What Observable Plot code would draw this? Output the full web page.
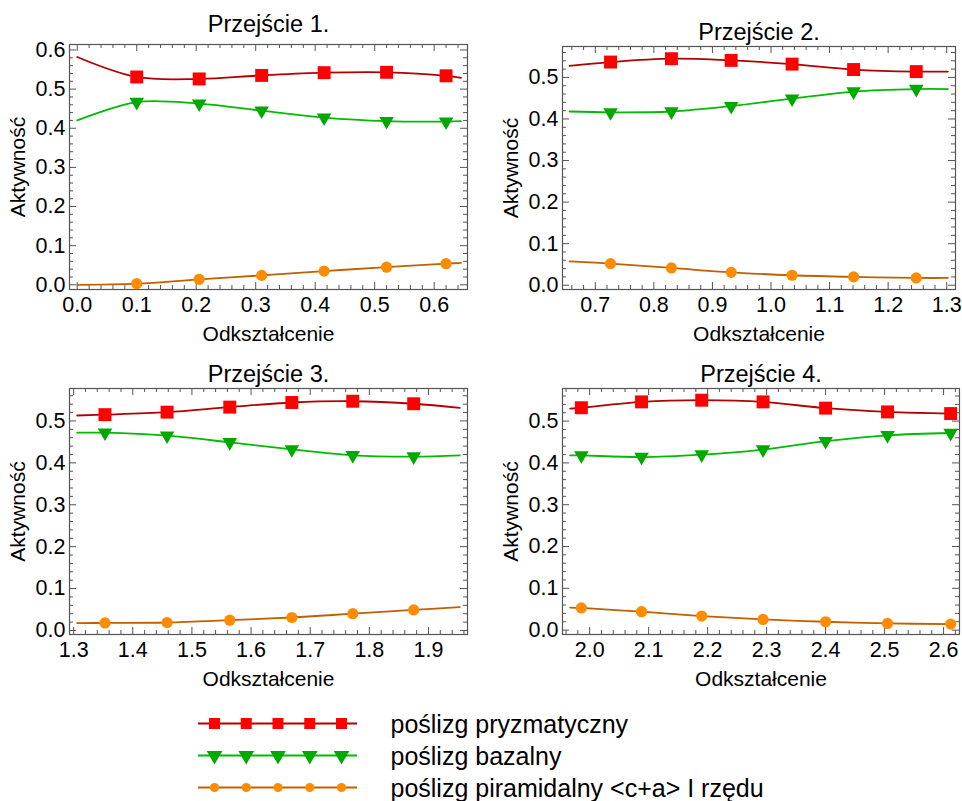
<!DOCTYPE html>
<html><head><meta charset="utf-8">
<script src="https://cdn.jsdelivr.net/npm/d3@7"></script>
<script src="https://cdn.jsdelivr.net/npm/@observablehq/plot@0.6"></script>
<style>
body{margin:0;background:#fff;}
#root{position:relative;width:962px;height:801px;overflow:hidden;font-family:Arial,"Liberation Sans",sans-serif;}
#root > svg, #root > figure{position:absolute;margin:0;}
</style></head><body><div id="root"></div>
<script>
// ---------- data ----------
const seriesNames = ["poślizg pryzmatyczny", "poślizg bazalny", "poślizg piramidalny <c+a> I rzędu"];
const panelTitles = ["Przejście 1.", "Przejście 2.", "Przejście 3.", "Przejście 4."];
const xLabel = "Odkształcenie";
const yLabel = "Aktywność";

// Panel 1
const strain1 = [0, 0.10, 0.205, 0.31, 0.415, 0.52, 0.62, 0.645];
const marked1 = [0, 1, 1, 1, 1, 1, 1, 0];
const pryz1 = [0.582, 0.531, 0.526, 0.535, 0.542, 0.543, 0.534, 0.529];
const baz1  = [0.420, 0.467, 0.463, 0.445, 0.427, 0.418, 0.417, 0.418];
const pir1  = [0.000, 0.003, 0.014, 0.024, 0.035, 0.045, 0.054, 0.056];

// Panel 2
const strain2 = [0.656, 0.726, 0.83, 0.932, 1.036, 1.141, 1.248, 1.302];
const marked2 = [0, 1, 1, 1, 1, 1, 1, 0];
const pryz2 = [0.528, 0.537, 0.545, 0.541, 0.532, 0.519, 0.514, 0.514];
const baz2  = [0.418, 0.416, 0.418, 0.431, 0.449, 0.466, 0.472, 0.472];
const pir2  = [0.0576, 0.052, 0.0415, 0.031, 0.024, 0.020, 0.0175, 0.0175];

// Panel 3
const strain3 = [1.306, 1.353, 1.458, 1.564, 1.669, 1.772, 1.875, 1.953];
const marked3 = [0, 1, 1, 1, 1, 1, 1, 0];
const pryz3 = [0.513, 0.515, 0.521, 0.533, 0.544, 0.547, 0.541, 0.531];
const baz3  = [0.472, 0.472, 0.465, 0.449, 0.432, 0.418, 0.415, 0.418];
const pir3  = [0.0175, 0.018, 0.019, 0.0246, 0.031, 0.040, 0.049, 0.0556];

// Panel 4
const strain4 = [1.967, 1.986, 2.088, 2.19, 2.294, 2.40, 2.505, 2.612];
const marked4 = [0, 1, 1, 1, 1, 1, 1, 1];
const pryz4 = [0.530, 0.532, 0.546, 0.550, 0.546, 0.531, 0.522, 0.518];
const baz4  = [0.418, 0.418, 0.414, 0.420, 0.432, 0.452, 0.466, 0.4715];
const pir4  = [0.054, 0.053, 0.044, 0.0336, 0.0255, 0.020, 0.016, 0.0144];

// tick labels
const xTicks1 = [0.0, 0.1, 0.2, 0.3, 0.4, 0.5, 0.6];
const xTicks2 = [0.7, 0.8, 0.9, 1.0, 1.1, 1.2, 1.3];
const xTicks3 = [1.3, 1.4, 1.5, 1.6, 1.7, 1.8, 1.9];
const xTicks4 = [2.0, 2.1, 2.2, 2.3, 2.4, 2.5, 2.6];
const yTicks1 = [0.0, 0.1, 0.2, 0.3, 0.4, 0.5, 0.6];
const yTicks2 = [0.0, 0.1, 0.2, 0.3, 0.4, 0.5];

// ---------- styling / layout ----------
const lineColors = ["#b00000", "#00bb00", "#c06000"];
const markColors = ["#ff0000", "#00a800", "#ff8c00"];
const font = 'Arial, "Liberation Sans", sans-serif';

const panels = [
  {title: panelTitles[0], strain: strain1, marked: marked1, vals: [pryz1, baz1, pir1], xTicks: xTicks1, yTicks: yTicks1,
   left: 0, top: 0, mL: 69, mR: 14, mT: 44, mB: 56, xDomain: [-0.013, 0.656], yDomain: [-0.012, 0.614], titleDy: -20},
  {title: panelTitles[1], strain: strain2, marked: marked2, vals: [pryz2, baz2, pir2], xTicks: xTicks2, yTicks: yTicks2,
   left: 481, top: 0, mL: 81, mR: 7, mT: 46, mB: 56, xDomain: [0.644, 1.315], yDomain: [-0.0103, 0.5744], titleDy: -14},
  {title: panelTitles[2], strain: strain3, marked: marked3, vals: [pryz3, baz3, pir3], xTicks: xTicks3, yTicks: yTicks2,
   left: 0, top: 345, mL: 69, mR: 14, mT: 43, mB: 56, xDomain: [1.293, 1.966], yDomain: [-0.0096, 0.5774], titleDy: -14},
  {title: panelTitles[3], strain: strain4, marked: marked4, vals: [pryz4, baz4, pir4], xTicks: xTicks4, yTicks: yTicks2,
   left: 481, top: 345, mL: 81, mR: 3, mT: 43, mB: 56, xDomain: [1.954, 2.627], yDomain: [-0.0105, 0.578], titleDy: -14}
];

function minorTicks(lo, hi, step) {
  const a = Math.ceil(lo / step - 1e-9), b = Math.floor(hi / step + 1e-9);
  return d3.range(a, b + 1).filter(i => i % 5 !== 0).map(i => +(i * step).toFixed(6));
}
function majorAll(lo, hi, step) {
  const a = Math.ceil(lo / step - 1e-9), b = Math.floor(hi / step + 1e-9);
  return d3.range(a, b + 1).map(i => +(i * step).toFixed(6));
}

const root = document.getElementById("root");
const W = 481, H = 345;
const frameColor = "#555";
const majorLen = 7, minorLen = 4;

for (const p of panels) {
  const pw = W - p.mL - p.mR, ph = H - p.mT - p.mB;
  const rows = [];
  p.strain.forEach((s, i) => seriesNames.forEach((name, k) => rows.push({s, v: p.vals[k][i], name, k, marked: p.marked[i]})));
  const mk = k => rows.filter(r => r.marked && r.k === k);
  const xMaj = majorAll(p.xDomain[0], p.xDomain[1], 0.1), xMin = minorTicks(p.xDomain[0], p.xDomain[1], 0.02);
  const yMaj = majorAll(p.yDomain[0], p.yDomain[1], 0.1), yMin = minorTicks(p.yDomain[0], p.yDomain[1], 0.02);
  const tickStyle = {stroke: frameColor, strokeWidth: 1};
  const svg = Plot.plot({
    width: W, height: H,
    marginLeft: p.mL, marginRight: p.mR, marginTop: p.mT, marginBottom: p.mB,
    x: {domain: p.xDomain},
    y: {domain: p.yDomain},
    color: {domain: seriesNames, range: lineColors},
    style: {fontFamily: font, fontSize: "21px", color: "black", background: "white", overflow: "visible"},
    marks: [
      // inward ticks on all four sides
      Plot.ruleX(xMaj, {x: d => d, insetTop: ph - majorLen, ...tickStyle}),
      Plot.ruleX(xMin, {x: d => d, insetTop: ph - minorLen, ...tickStyle}),
      Plot.ruleX(xMaj, {x: d => d, insetBottom: ph - majorLen, ...tickStyle}),
      Plot.ruleX(xMin, {x: d => d, insetBottom: ph - minorLen, ...tickStyle}),
      Plot.ruleY(yMaj, {y: d => d, insetRight: pw - majorLen, ...tickStyle}),
      Plot.ruleY(yMin, {y: d => d, insetRight: pw - minorLen, ...tickStyle}),
      Plot.ruleY(yMaj, {y: d => d, insetLeft: pw - majorLen, ...tickStyle}),
      Plot.ruleY(yMin, {y: d => d, insetLeft: pw - minorLen, ...tickStyle}),
      Plot.frame({stroke: frameColor, strokeWidth: 1.2}),
      Plot.axisX({ticks: p.xTicks, tickSize: 0, tickPadding: 7, tickFormat: d3.format(".1f"), label: null, fontSize: 21.5}),
      Plot.axisY({ticks: p.yTicks, tickSize: 0, tickPadding: 4, tickFormat: d3.format(".1f"), label: null, fontSize: 21.5}),
      Plot.line(rows, {x: "s", y: "v", z: "name", stroke: "name", curve: "catmull-rom", strokeWidth: 1.8}),
      Plot.dot(mk(0), {x: "s", y: "v", symbol: "square", r: 7.3, fill: markColors[0]}),
      Plot.dot(mk(1), {x: "s", y: "v", symbol: "triangle", rotate: 180, r: 5.4, fill: markColors[1]}),
      Plot.dot(mk(2), {x: "s", y: "v", symbol: "circle", r: 5.6, fill: markColors[2]}),
      Plot.text([p.title], {text: d => d, frameAnchor: "top", dy: p.titleDy, fontSize: 23.5, lineAnchor: "middle", fill: "black"}),
      Plot.text([xLabel], {text: d => d, frameAnchor: "bottom", dy: 45, fontSize: 21, lineAnchor: "middle", fill: "black"}),
      Plot.text([yLabel], {text: d => d, frameAnchor: "left", dx: -51, rotate: -90, fontSize: 21, lineAnchor: "middle", textAnchor: "middle", fill: "black"})
    ]
  });
  svg.style.left = p.left + "px";
  svg.style.top = p.top + "px";
  root.appendChild(svg);
}

// ---------- legend ----------
const legTop = 690, legH = 111;
const rowY = i => 33 + i * 32;
const swatchX = j => 214 + j * 31.75;
const legendRows = seriesNames.map((name, i) => ({name, i, y: rowY(i)}));
const legendDots = legendRows.flatMap(r => d3.range(5).map(j => ({...r, x: swatchX(j)})));
const symbols = ["square", "triangle", "circle"];
const legR = [6.2, 5.8, 4.6];
const legend = Plot.plot({
  width: 962, height: legH,
  margin: 0,
  x: {type: "identity", axis: null},
  y: {type: "identity", axis: null},
  style: {fontFamily: font, fontSize: "25px", color: "black", background: "white", overflow: "visible"},
  marks: [
    Plot.ruleY(legendRows, {y: "y", x1: 198, x2: 357, stroke: r => lineColors[r.i], strokeWidth: 1.8}),
    ...[0, 1, 2].map(k => Plot.dot(legendDots.filter(d => d.i === k), {
      x: "x", y: "y", symbol: symbols[k], r: legR[k], fill: markColors[k], rotate: k === 1 ? 180 : 0
    })),
    Plot.text(legendRows, {x: 390, y: "y", text: "name", textAnchor: "start", lineAnchor: "middle", dy: 1.5, fontSize: 25, fill: "black"})
  ]
});
legend.style.left = "0px";
legend.style.top = legTop + "px";
root.appendChild(legend);
</script>
</body></html>
